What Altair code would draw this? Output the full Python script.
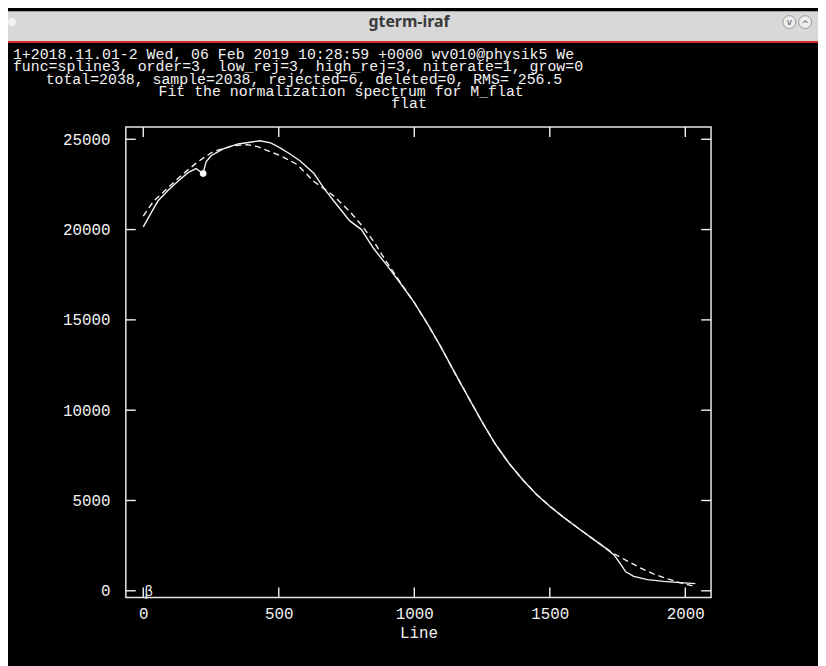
import altair as alt
import pandas as pd

# ---------------- data ----------------
WINDOW_TITLE = ["gterm-iraf"]
HEADER_LINES = [
    "1+2018.11.01-2 Wed, 06 Feb 2019 10:28:59 +0000 wv010@physik5 We",
    "func=spline3, order=3, low_rej=3, high_rej=3, niterate=1, grow=0",
    "total=2038, sample=2038, rejected=6, deleted=0, RMS=  256.5",
    "Fit the normalization spectrum for M_flat",
    "flat",
]
X_TICKS = [0, 500, 1000, 1500, 2000]
Y_TICKS = [0, 5000, 10000, 15000, 20000, 25000]

# measured spectrum (solid)
DATA_LINE = [0, 30, 55, 90, 130, 165, 195, 220, 232, 250, 295, 350, 400, 430,
             470, 505, 540, 578, 630, 667, 703, 762, 805, 850, 900, 950, 1000,
             1050, 1100, 1150, 1200, 1250, 1300, 1350, 1400, 1450, 1500, 1550,
             1600, 1650, 1700, 1737, 1760, 1780, 1810, 1860, 1920, 1980, 2037]
DATA_COUNTS = [20150, 20950, 21600, 22150, 22700, 23150, 23380, 23100, 23750,
               24090, 24470, 24740, 24850, 24920, 24800, 24520, 24200, 23810,
               23100, 22280, 21580, 20480, 20000, 18950, 18000, 17000, 15950,
               14750, 13450, 12050, 10700, 9350, 8100, 7050, 6150, 5350, 4680,
               4080, 3520, 2970, 2430, 1990, 1500, 1050, 800, 620, 520, 450, 400]

# spline3 fit (dashed)
FIT_LINE = [0, 38, 85, 148, 202, 257, 330, 385, 422, 458, 505, 568, 630, 700,
            762, 805, 850, 900, 950, 1000, 1050, 1100, 1150, 1200, 1250, 1300,
            1350, 1400, 1450, 1500, 1550, 1600, 1650, 1700, 1737, 1780, 1830,
            1880, 1930, 1980, 2037]
FIT_COUNTS = [20750, 21570, 22230, 23100, 23760, 24310, 24640, 24700, 24590,
              24370, 24100, 23600, 22660, 21900, 21000, 20250, 19350, 18150,
              17050, 15950, 14750, 13450, 12050, 10700, 9350, 8100, 7050, 6150,
              5350, 4680, 4080, 3520, 2970, 2430, 2050, 1700, 1300, 950, 680,
              450, 230]

# rejected points
REJ_LINE = [221]
REJ_COUNTS = [23100]
REJ_MARK_LINE = [20]
REJ_MARK_COUNTS = [-60]
REJ_MARK_TEXT = ["β"]

# ---------------- layout ----------------
W, H = 591, 475
PAD = {"left": 119, "top": 117, "right": 108, "bottom": 66}
MONO = "Liberation Mono"
FG = "#f2f2f2"

xscale = alt.Scale(domain=[-64.3, 2095], nice=False, zero=False)
yscale = alt.Scale(domain=[-367, 25675], nice=False, zero=False)

x_enc = alt.X("line:Q", scale=xscale,
              axis=alt.Axis(values=X_TICKS, format="d", ticks=False, tickSize=0,
                            domain=False, grid=False, labelFont=MONO,
                            labelFontSize=16, labelColor=FG, labelPadding=8,
                            labelFlush=False, title="Line", titleFont=MONO,
                            titleFontSize=16, titleFontWeight="normal",
                            titleColor=FG, titlePadding=3))
y_enc = alt.Y("counts:Q", scale=yscale,
              axis=alt.Axis(values=Y_TICKS, format="d", ticks=False, tickSize=0,
                            domain=False, grid=False, labelFont=MONO,
                            labelFontSize=16, labelColor=FG, labelPadding=16,
                            labelFlush=False, title=None))

data_df = pd.DataFrame({"line": DATA_LINE, "counts": DATA_COUNTS})
fit_df = pd.DataFrame({"line": FIT_LINE, "counts": FIT_COUNTS})
rej_df = pd.DataFrame({"line": REJ_LINE, "counts": REJ_COUNTS})
rejm_df = pd.DataFrame({"line": REJ_MARK_LINE, "counts": REJ_MARK_COUNTS,
                        "t": REJ_MARK_TEXT})
xt_df = pd.DataFrame({"line": X_TICKS})
yt_df = pd.DataFrame({"counts": Y_TICKS})

solid = alt.Chart(data_df).mark_line(color=FG, strokeWidth=1.4).encode(
    x=x_enc, y=y_enc)
dashed = alt.Chart(fit_df).mark_line(color=FG, strokeWidth=1.4,
                                     strokeDash=[6, 4]).encode(x=x_enc, y=y_enc)
rej = alt.Chart(rej_df).mark_point(filled=True, color="white", size=45,
                                   opacity=1).encode(x=x_enc, y=y_enc)
rejm = alt.Chart(rejm_df).mark_text(font=MONO, fontSize=14, color=FG,
                                    baseline="middle").encode(
    x=x_enc, y=y_enc, text="t:N")

tick_bot = alt.Chart(xt_df).mark_rule(color=FG, strokeWidth=1.4).encode(
    x=x_enc, y=alt.value(H), y2=alt.value(H - 10))
tick_top = alt.Chart(xt_df).mark_rule(color=FG, strokeWidth=1.4).encode(
    x=x_enc, y=alt.value(0), y2=alt.value(10))
tick_left = alt.Chart(yt_df).mark_rule(color=FG, strokeWidth=1.4).encode(
    y=y_enc, x=alt.value(0), x2=alt.value(10))
tick_right = alt.Chart(yt_df).mark_rule(color=FG, strokeWidth=1.4).encode(
    y=y_enc, x=alt.value(W), x2=alt.value(W - 10))

one = pd.DataFrame({"a": [0]})
# window chrome
bar = alt.Chart(one).mark_rect(color="#d8d8d8").encode(
    x=alt.value(-PAD["left"]), x2=alt.value(W + PAD["right"]),
    y=alt.value(-PAD["top"]), y2=alt.value(-87))
red = alt.Chart(one).mark_rule(color="#d62a2a", strokeWidth=2).encode(
    x=alt.value(-PAD["left"]), x2=alt.value(W + PAD["right"]),
    y=alt.value(-86))
wt = alt.Chart(pd.DataFrame({"t": WINDOW_TITLE})).mark_text(
    font="Noto Sans", fontSize=16, fontWeight="bold", color="#3a3a3a",
    baseline="middle", align="center").encode(
    x=alt.value(286), y=alt.value(-106), text="t:N")
btn1 = alt.Chart(one).mark_point(shape="circle", size=170, color="#9a9a9a",
                                 fill="#ececec", filled=False, strokeWidth=1,
                                 opacity=1).encode(
    x=alt.value(670), y=alt.value(-106))
btn2 = alt.Chart(one).mark_point(shape="circle", size=170, color="#9a9a9a",
                                 fill="#ececec", filled=False, strokeWidth=1,
                                 opacity=1).encode(
    x=alt.value(686), y=alt.value(-106))
dot = alt.Chart(one).mark_point(shape="circle", size=60, color="#f4f4f4",
                                filled=True, opacity=1).encode(
    x=alt.value(-115), y=alt.value(-106))
chev1 = alt.Chart(pd.DataFrame({"t": ["v"]})).mark_text(
    font="DejaVu Sans", fontSize=9, color="#555555", baseline="middle").encode(
    x=alt.value(670), y=alt.value(-106), text="t:N")
chev2 = alt.Chart(pd.DataFrame({"t": ["^"]})).mark_text(
    font="DejaVu Sans", fontSize=9, color="#555555", baseline="middle").encode(
    x=alt.value(686), y=alt.value(-104), text="t:N")

# header text lines
HEAD_X = [-114, -114, -81, 33, 268]
HEAD_Y = [-74, -61.5, -49, -36.5, -24]
heads = []
for i, line in enumerate(HEADER_LINES):
    heads.append(alt.Chart(pd.DataFrame({"t": [line]})).mark_text(
        font=MONO, fontSize=15, color=FG, align="left",
        baseline="middle").encode(
        x=alt.value(HEAD_X[i]), y=alt.value(HEAD_Y[i]), text="t:N"))

chart = alt.layer(
    bar, red, wt, btn1, btn2, dot, chev1, chev2, *heads,
    tick_bot, tick_top, tick_left, tick_right,
    dashed, solid, rej, rejm,
).properties(
    width=W, height=H, padding=PAD,
    autosize=alt.AutoSizeParams(type="none"),
    background="black",
).configure_view(stroke="#e6e6e6", strokeWidth=1.5)

chart.save("out.html", embed_options={"renderer": "svg", "actions": False})
